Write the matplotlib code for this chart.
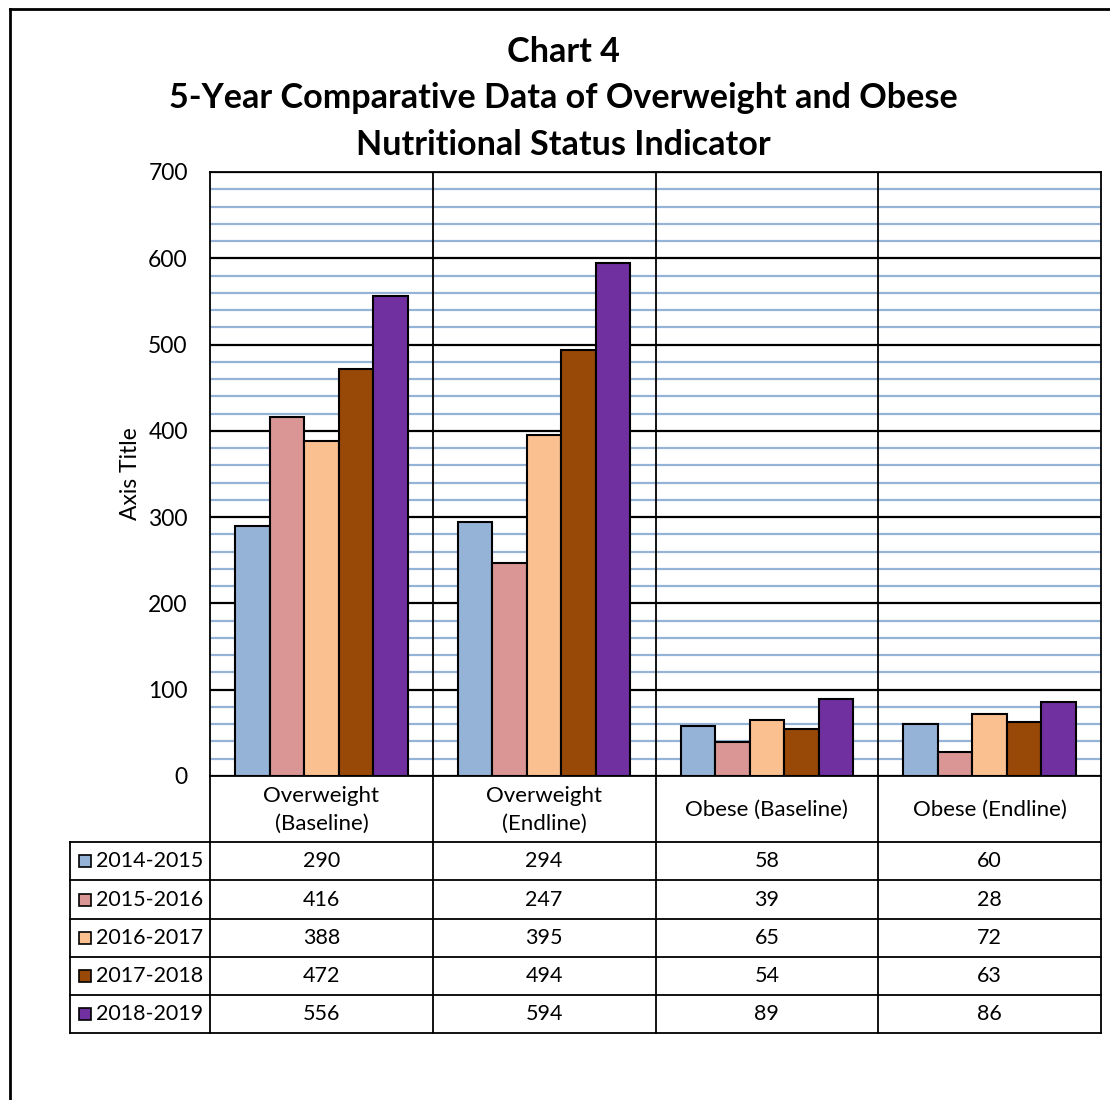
import numpy as np
import matplotlib.pyplot as plt
from matplotlib.lines import Line2D

plt.rcParams['font.family'] = ['Lato', 'DejaVu Sans']

categories = ["Overweight\n(Baseline)", "Overweight\n(Endline)", "Obese (Baseline)", "Obese (Endline)"]
years = ["2014-2015", "2015-2016", "2016-2017", "2017-2018", "2018-2019"]
v_1415 = [290, 294, 58, 60]
v_1516 = [416, 247, 39, 28]
v_1617 = [388, 395, 65, 72]
v_1718 = [472, 494, 54, 63]
v_1819 = [556, 594, 89, 86]
series = [v_1415, v_1516, v_1617, v_1718, v_1819]
colors = ["#95B3D7", "#D99694", "#FAC090", "#984807", "#7030A0"]
title_lines = ["Chart 4", "5-Year Comparative Data of Overweight and Obese", "Nutritional Status Indicator"]

W, H = 1110, 1100
fig = plt.figure(figsize=(11.1, 11.0), dpi=100)
# plot area in pixels: x 210..1101, y 172..776
ax = fig.add_axes([210 / W, 1 - 776 / H, 891 / W, 604 / H])

x = np.arange(len(categories))
bw = 0.155
for i, (vals, c) in enumerate(zip(series, colors)):
    ax.bar(x + (i - 2) * bw, vals, bw, color=c, edgecolor="black", linewidth=1.5, zorder=3)

ax.set_xlim(-0.5, 3.5)
ax.set_ylim(0, 700)
ax.set_yticks(np.arange(0, 701, 100))
ax.set_yticks(np.arange(0, 701, 20), minor=True)
ax.grid(which="minor", axis="y", color="#95B3D7", lw=1.6, zorder=1)
ax.grid(which="major", axis="y", color="black", lw=1.6, zorder=2)
for xs in [0.5, 1.5, 2.5]:
    ax.axvline(xs, color="black", lw=1.3, zorder=2)
ax.set_xticks([])
ax.tick_params(axis="y", which="both", length=0, labelsize=16.5, pad=16)
for s in ax.spines.values():
    s.set_color("black")
    s.set_linewidth(1.3)
ax.set_ylabel("Axis Title", fontsize=16.5, labelpad=5)

for k, (t, py) in enumerate(zip(title_lines, [52, 98, 145])):
    fig.text(563 / W, 1 - py / H, t, ha="center", va="center", fontsize=24.6, fontweight="bold")

# data table under the axis
def ypx(py):
    return (776 - py) / 604.0

trans = ax.get_xaxis_transform()
row_edges = [842, 880, 919, 957, 995, 1033]
left_ax = (70 - 210) / 891.0
kw = dict(color="black", lw=1.3, clip_on=False)
for py in row_edges:
    ax.add_line(Line2D([left_ax, 1], [ypx(py), ypx(py)], transform=ax.transAxes, **kw))
ax.add_line(Line2D([left_ax, left_ax], [ypx(842), ypx(1033)], transform=ax.transAxes, **kw))
for xs in [-0.5, 0.5, 1.5, 2.5, 3.5]:
    ax.add_line(Line2D([xs, xs], [0, ypx(1033)], transform=trans, **kw))

for j, cat in enumerate(categories):
    ax.text(j, ypx(810), cat, transform=trans, ha="center", va="center", fontsize=16, linespacing=1.45)

for i, (yr, vals, c) in enumerate(zip(years, series, colors)):
    yc = ypx((row_edges[i] + row_edges[i + 1]) / 2)
    ax.plot([(85 - 210) / 891.0], [yc], marker="s", ms=8, mfc=c, mec="black", mew=1.2,
            transform=ax.transAxes, clip_on=False)
    ax.text((96 - 210) / 891.0, yc, yr, transform=ax.transAxes, ha="left", va="center", fontsize=15.5)
    for j, v in enumerate(vals):
        ax.text(j, yc, str(v), transform=trans, ha="center", va="center", fontsize=15.5)

# outer chart border (only left and top visible)
fig.add_artist(Line2D([10 / W, 10 / W], [0, 1 - 9 / H], color="black", lw=2))
fig.add_artist(Line2D([10 / W, 1], [1 - 9 / H, 1 - 9 / H], color="black", lw=2))

fig.savefig("out.png", dpi=100)
